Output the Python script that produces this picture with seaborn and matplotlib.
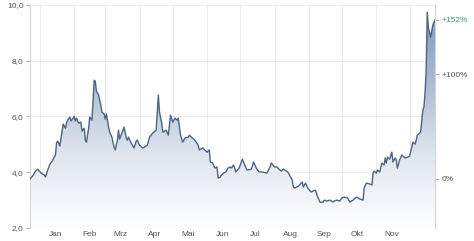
import numpy as np
import pandas as pd
import matplotlib
matplotlib.use("Agg")
import matplotlib.pyplot as plt
import matplotlib.dates as mdates
from matplotlib.colors import LinearSegmentedColormap
import seaborn as sns

# ---- data (day offset from 1 Jan, price) ----
days = [-9, -6, -4, -2, 1, 4, 5, 7, 9, 11, 14, 15, 16, 18, 19, 21, 23, 24, 25, 27,
        28, 30, 31, 32, 33, 35, 37, 38, 40, 41, 42, 44, 45, 47, 49, 50, 51, 53, 55, 56,
        58, 59, 60, 62, 63, 65, 67, 68, 70, 71, 72, 74, 76, 78, 79, 80, 82, 85, 87, 88,
        90, 93, 97, 99, 102, 105, 107, 108, 110, 111, 114, 116, 118, 120, 122, 124, 125, 127, 129, 131,
        134, 135, 137, 140, 143, 144, 147, 149, 151, 153, 154, 156, 158, 160, 161, 163, 164, 166, 168, 170,
        172, 173, 175, 177, 180, 183, 185, 187, 191, 193, 196, 198, 201, 205, 208, 209, 212, 214, 218, 220,
        224, 228, 229, 230, 232, 234, 237, 238, 240, 242, 245, 247, 249, 251, 253, 256, 257, 259, 262, 265,
        266, 268, 271, 273, 275, 278, 280, 283, 286, 289, 292, 293, 295, 298, 300, 301, 302, 304, 305, 307,
        309, 311, 312, 313, 314, 316, 318, 319, 321, 322, 323, 325, 327, 330, 332, 334, 336, 337, 339, 340,
        341, 344, 346, 347, 348, 349, 350, 351, 353, 355, 357]
prices = [3.76, 3.90, 4.04, 4.11, 3.97, 3.90, 3.83, 4.08, 4.29, 4.40, 4.62, 5.05, 5.12, 4.94, 5.23, 5.73, 5.58, 5.76, 5.87, 5.98,
          5.84, 5.94, 6.01, 5.84, 5.94, 5.76, 5.80, 5.48, 5.58, 5.15, 5.08, 5.58, 5.98, 5.87, 7.30, 7.27, 6.91, 6.77, 6.41, 6.16,
          6.09, 5.91, 6.09, 5.62, 5.44, 5.26, 4.90, 4.80, 5.15, 5.51, 5.19, 5.41, 5.62, 5.23, 5.15, 5.26, 5.08, 4.87, 5.12, 5.15,
          4.97, 4.87, 4.97, 5.26, 5.41, 5.51, 6.77, 6.16, 5.76, 5.44, 5.51, 5.33, 6.05, 5.80, 5.94, 5.87, 5.94, 5.33, 5.08, 5.23,
          5.26, 5.33, 5.26, 5.15, 4.97, 4.80, 4.87, 4.80, 4.72, 4.80, 4.37, 4.33, 4.15, 4.19, 3.79, 3.83, 3.90, 3.97, 4.01, 4.15,
          4.19, 4.15, 4.26, 4.01, 4.15, 4.47, 4.26, 4.08, 4.11, 4.37, 4.11, 4.01, 4.01, 3.97, 4.19, 4.33, 4.19, 4.19, 4.04, 4.11,
          4.01, 3.72, 3.47, 3.43, 3.47, 3.51, 3.65, 3.47, 3.61, 3.43, 3.29, 3.33, 3.36, 3.11, 2.93, 2.93, 3.00, 2.97, 3.00, 2.93,
          2.97, 3.00, 2.97, 3.08, 3.11, 3.08, 2.93, 3.00, 3.11, 3.04, 3.00, 3.43, 3.61, 3.58, 3.54, 3.97, 4.04, 3.97, 4.08, 4.01,
          4.33, 4.26, 4.51, 4.33, 4.54, 4.47, 4.72, 4.37, 4.51, 4.44, 4.15, 4.44, 4.62, 4.51, 4.54, 4.58, 4.90, 5.08, 5.01, 5.15,
          5.33, 5.44, 6.23, 6.34, 6.84, 7.66, 9.74, 9.20, 8.85, 9.28, 9.47]
month_labels = ["Jan", "Feb", "Mrz", "Apr", "Mai", "Jun", "Jul", "Aug", "Sep", "Okt", "Nov"]
y_ticks = [2, 4, 6, 8, 10]
pct_ticks = [0, 100, 152]

sns.set_theme(style="white")
plt.rcParams["font.family"] = ["Liberation Sans", "DejaVu Sans"]

origin = pd.Timestamp("2023-01-01")
df = pd.DataFrame({"date": origin + pd.to_timedelta(days, unit="D"), "price": prices})

W, H = 474, 241
fig = plt.figure(figsize=(W / 100, H / 100), dpi=100)
ax = fig.add_axes([30 / W, 13 / H, 405 / W, 223 / H])

x0, x1 = df["date"].iloc[0], df["date"].iloc[-1]
ax.set_xlim(x0, x1)
ax.set_ylim(2, 10)

# gradient fill under the line
poly = ax.fill_between(df["date"], df["price"], 2, color="none", lw=0)
cmap = LinearSegmentedColormap.from_list("g", ["#ffffff", "#dfe5ee", "#a9b9d0", "#7d95b6"])
grad = np.linspace(0, 1, 256).reshape(-1, 1)
im = ax.imshow(grad, extent=[mdates.date2num(x0), mdates.date2num(x1), 2, 10],
               aspect="auto", origin="lower", cmap=cmap, zorder=1)
path = poly.get_paths()[0]
im.set_clip_path(path, transform=ax.transData)

sns.lineplot(data=df, x="date", y="price", color="#4d6482", linewidth=1.0, ax=ax, zorder=3)

# grids
ax.set_yticks(y_ticks)
ax.set_yticklabels([f"{v:.1f}".replace(".", ",") for v in y_ticks])
month_starts = [origin + pd.DateOffset(months=i) for i in range(12)]
ax.set_xticks([mdates.date2num(d) for d in month_starts], minor=True)
mids = [origin + pd.DateOffset(months=i) + pd.Timedelta(days=14) for i in range(11)]
ax.set_xticks([mdates.date2num(d) for d in mids])
ax.set_xticklabels(month_labels)
ax.grid(False)
ax.xaxis.grid(True, which="minor", color="#ececec", lw=0.7, zorder=0)
ax.yaxis.grid(True, which="major", color="#ececec", lw=0.7, zorder=0)
ax.set_axisbelow(True)
ax.set_xlabel("")
ax.set_ylabel("")

ax.tick_params(axis="x", which="both", length=0, pad=2, labelsize=6, labelcolor="#555555")
ax.tick_params(axis="y", length=3, width=0.6, color="#aaaaaa", pad=1.5, labelsize=6,
               labelcolor="#555555", left=True)
for s in ["top", "bottom"]:
    ax.spines[s].set_visible(False)
for s in ["left", "right"]:
    ax.spines[s].set_color("#d5d5d5")
    ax.spines[s].set_linewidth(0.8)

# right percentage axis
base = prices[0]
ax2 = ax.twinx()
ax2.set_ylim(2, 10)
ax2.set_yticks([base * (1 + p / 100) for p in pct_ticks])
ax2.set_yticklabels(["0%" if p == 0 else f"+{p}%" for p in pct_ticks])
ax2.tick_params(axis="y", length=3, width=0.6, color="#aaaaaa", pad=1.5, labelsize=6,
                labelcolor="#555555", right=True)
ax2.get_yticklabels()[-1].set_color("#3a9a6c")
ax2.grid(False)
for s in ["top", "bottom", "left"]:
    ax2.spines[s].set_visible(False)
ax2.spines["right"].set_color("#d5d5d5")
ax2.spines["right"].set_linewidth(0.8)

fig.savefig("out.png", dpi=100)
